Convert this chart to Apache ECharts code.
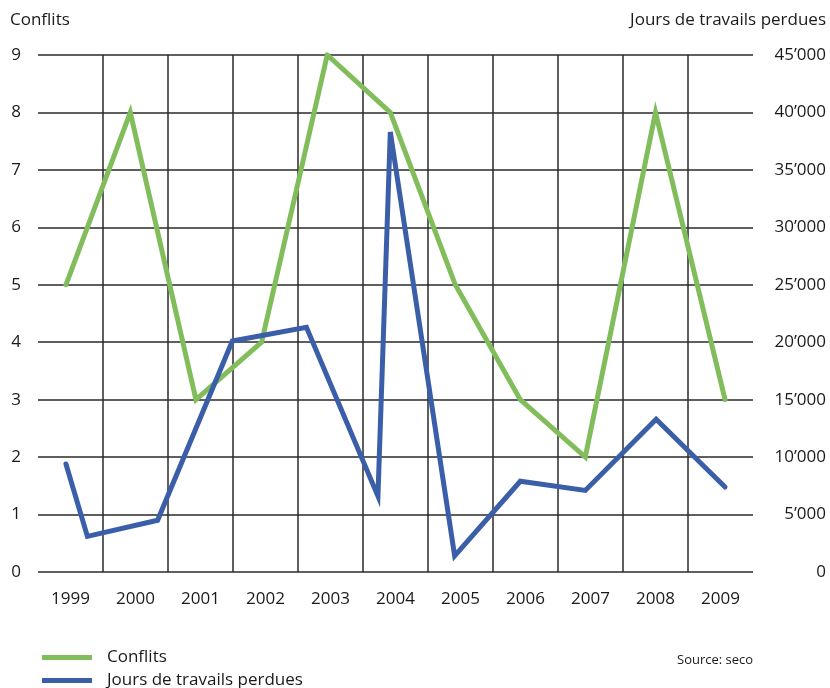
<!DOCTYPE html>
<html>
<head>
<meta charset="utf-8">
<script src="https://cdn.jsdelivr.net/npm/echarts@6/dist/echarts.min.js"></script>
<style>
  html, body { margin: 0; padding: 0; background: #fff; }
  #chart { width: 830px; height: 688px; }
</style>
</head>
<body>
<div id="chart"></div>
<script>
// Year categories shown along the bottom axis
const years = ['1999', '2000', '2001', '2002', '2003', '2004', '2005', '2006', '2007', '2008', '2009'];

// Conflicts per year (left axis); positions expressed in years
const conflitsX = [1998.93, 1999.92, 2000.93, 2001.94, 2002.95, 2003.92, 2004.92, 2005.92, 2006.92, 2008.0, 2009.07];
const conflits = [5, 8, 3, 4, 9, 8, 5, 3, 2, 8, 3];

// Lost working days (right axis)
const joursX = [1998.93, 1999.26, 2000.34, 2001.49, 2002.63, 2003.73, 2003.92, 2004.91, 2005.92, 2006.92, 2008.01, 2009.07];
const jours = [9400, 3100, 4500, 20100, 21300, 6600, 38300, 1400, 7900, 7100, 13300, 7400];

// Axis tick values
const leftTicks = { min: 0, max: 9, interval: 1 };
const rightTicks = { min: 0, max: 45000, interval: 5000 };

const FONT = '"Open Sans", "Noto Sans", sans-serif';
const GREEN = '#82bd5b';
const BLUE = '#3b5ea9';
const GRID = '#2a2a2a';
const TEXT = '#1a1a1a';

const chart = echarts.init(document.getElementById('chart'), null, { renderer: 'canvas' });

const pair = (xs, ys) => xs.map((x, i) => [x, ys[i]]);

const legendBase = {
  left: 37,
  itemWidth: 50,
  itemHeight: 5,
  icon: 'rect',
  textStyle: { color: TEXT, fontFamily: FONT, fontSize: 17, padding: [0, 0, 0, 10] }
};

chart.setOption({
  backgroundColor: '#ffffff',
  animation: false,
  grid: { left: 38, right: 77, top: 55, bottom: 116, containLabel: false },
  xAxis: [
    {
      type: 'category',
      data: years,
      boundaryGap: true,
      position: 'bottom',
      axisLine: { show: false },
      axisTick: { show: false },
      axisLabel: { color: TEXT, fontFamily: FONT, fontSize: 17, margin: 19 },
      splitLine: { show: true, showMinLine: false, showMaxLine: false, lineStyle: { color: GRID, width: 1.5 } }
    },
    {
      type: 'value',
      min: 1998.5,
      max: 2009.5,
      show: false,
      splitLine: { show: false }
    }
  ],
  yAxis: [
    {
      type: 'value',
      min: leftTicks.min,
      max: leftTicks.max,
      interval: leftTicks.interval,
      position: 'left',
      axisLine: { show: false },
      axisTick: { show: false },
      axisLabel: { color: TEXT, fontFamily: FONT, fontSize: 17, margin: 17 },
      splitLine: { show: true, lineStyle: { color: GRID, width: 1.5 } }
    },
    {
      type: 'value',
      min: rightTicks.min,
      max: rightTicks.max,
      interval: rightTicks.interval,
      position: 'right',
      axisLine: { show: false },
      axisTick: { show: false },
      splitLine: { show: false },
      axisLabel: {
        color: TEXT, fontFamily: FONT, fontSize: 17, align: 'right', margin: 73,
        formatter: v => v === 0 ? '0' : (v / 1000) + '\u2019000'
      }
    }
  ],
  legend: [
    Object.assign({}, legendBase, { top: 644, data: ['Conflits'] }),
    Object.assign({}, legendBase, { top: 667, data: ['Jours de travails perdues'] })
  ],
  graphic: [
    { type: 'text', left: 10, top: 12, style: { text: 'Conflits', fill: TEXT, font: '17px ' + FONT } },
    { type: 'text', right: 4, top: 12, style: { text: 'Jours de travails perdues', fill: TEXT, font: '17px ' + FONT } },
    { type: 'text', left: 677, top: 654, style: { text: 'Source: seco', fill: TEXT, font: '13px ' + FONT } }
  ],
  series: [
    {
      name: 'Conflits',
      type: 'line',
      xAxisIndex: 1,
      yAxisIndex: 0,
      data: pair(conflitsX, conflits),
      showSymbol: false,
      color: GREEN,
      lineStyle: { color: GREEN, width: 5, cap: 'round', join: 'miter' },
      z: 3
    },
    {
      name: 'Jours de travails perdues',
      type: 'line',
      xAxisIndex: 1,
      yAxisIndex: 1,
      data: pair(joursX, jours),
      showSymbol: false,
      color: BLUE,
      lineStyle: { color: BLUE, width: 5, cap: 'round', join: 'miter' },
      z: 4
    }
  ]
});
</script>
</body>
</html>
